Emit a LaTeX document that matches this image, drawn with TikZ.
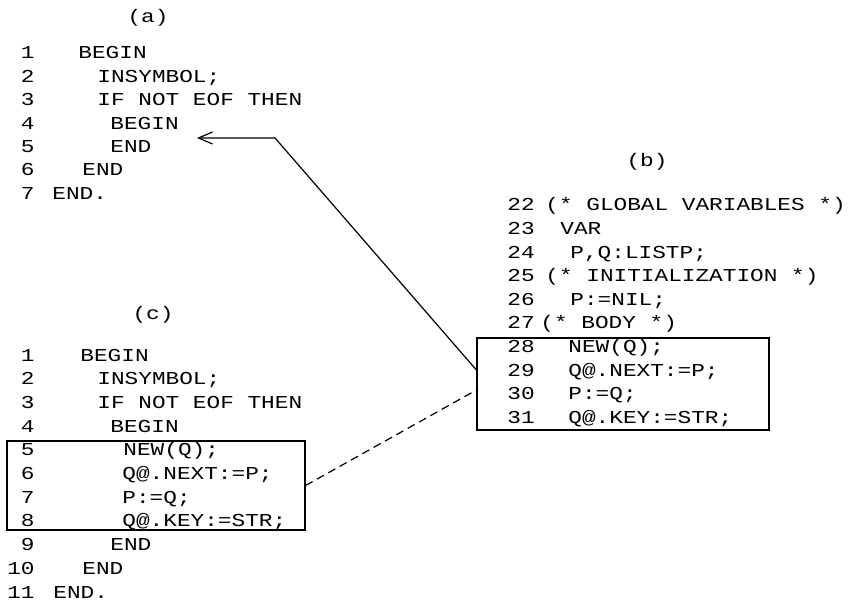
\documentclass[tikz,border=0pt]{standalone}
\usepackage{fontspec}
\usepackage{tikz}
\usetikzlibrary{arrows.meta,calc}
\newfontfamily\dotfont[FakeStretch=1.25]{Liberation Mono}

\begin{document}
\begin{tikzpicture}[x=0.5pt, y=-0.5pt,
  code/.style={font=\dotfont\fontsize{9.1}{11}\selectfont, inner sep=0pt, anchor=base west},
  num/.style={code, anchor=base east},
  tag/.style={font=\dotfont\fontsize{9.1}{11}\selectfont, inner sep=0pt},
  codebox/.style={draw, line width=0.6pt, inner sep=0pt},
  arr/.style={-{Straight Barb[length=7pt, width=6pt]}, line width=0.6pt}]
\useasboundingbox (0,0) rectangle (850,603);
% (a): original program
\node[tag] (taga) at (148,18) {(a)};
\foreach \n/\x/\t in {1/78/BEGIN, 2/97/INSYMBOL;, 3/97/IF NOT EOF THEN, 4/110/BEGIN,
    5/110/END, 6/82/END, 7/52/END.}{
  \node[num] (a\n) at (35,{59+23.4*(\n-1)}) {\n};
  \node[code] (ac\n) at (\x,{59+23.4*(\n-1)}) {\t};
}
% (b): fragment to insert
\node[tag] (tagb) at (647,162) {(b)};
\foreach \n/\x/\t in {22/545/{(* GLOBAL VARIABLES *)}, 23/560/VAR, 24/570/{P,Q:LISTP;},
    25/545/{(* INITIALIZATION *)}, 26/570/P:=NIL;, 27/540/{(* BODY *)},
    28/568/{NEW(Q);}, 29/568/Q@.NEXT:=P;, 30/568/P:=Q;, 31/568/Q@.KEY:=STR;}{
  \node[code] (b\n) at (507,{211+23.6*(\n-22)}) {\n};
  \node[code] (bc\n) at (\x,{211+23.6*(\n-22)}) {\t};
}
\node[codebox, minimum width=146pt, minimum height=46pt] (boxb) at (623,384) {};
% (c): program after insertion
\node[tag] (tagc) at (153,315) {(c)};
\foreach \n/\x/\t in {1/80/BEGIN, 2/97/INSYMBOL;, 3/97/IF NOT EOF THEN, 4/110/BEGIN,
    5/123/{NEW(Q);}, 6/122/Q@.NEXT:=P;, 7/122/P:=Q;, 8/122/Q@.KEY:=STR;,
    9/110/END, 10/82/END, 11/53/END.}{
  \node[num] (c\n) at (35,{361.3+23.67*(\n-1)}) {\n};
  \node[code] (cc\n) at (\x,{361.3+23.67*(\n-1)}) {\t};
}
\node[codebox, minimum width=149pt, minimum height=44.5pt] (boxc) at (156,485.5) {};
% links
\coordinate (bend) at (275,138);
\coordinate (tip) at (197,138);
\draw[arr] ($(boxb.west)+(0,-14)$) -- (bend) -- (tip);
\draw[dash pattern=on 4pt off 2.5pt, line width=0.6pt] (boxc.east) -- ($(boxb.west)+(0,6)$);
\end{tikzpicture}
\end{document}
